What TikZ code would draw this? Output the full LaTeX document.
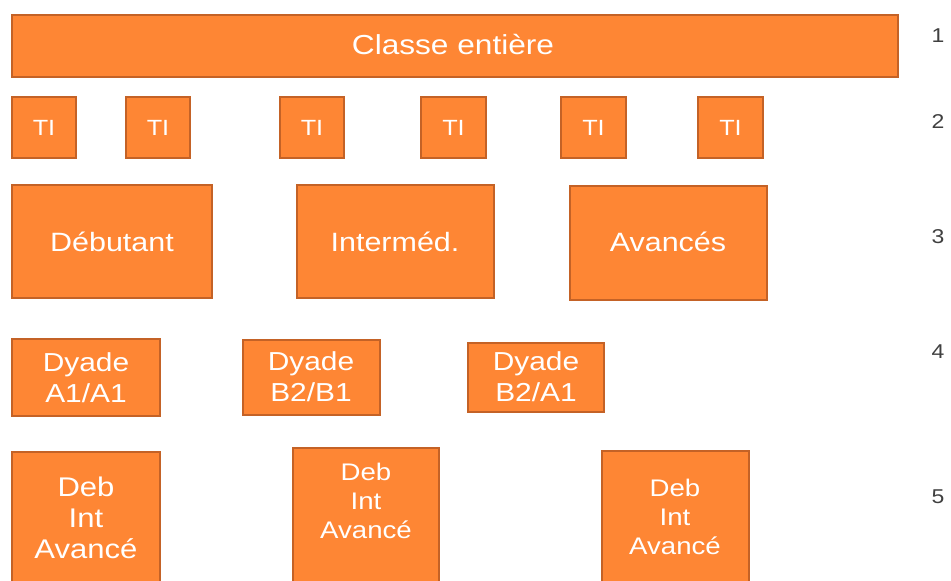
\documentclass[tikz,border=0pt]{standalone}
\usepackage{fontspec}
\setmainfont[FakeStretch=1.15]{Liberation Sans}
\definecolor{boxfill}{RGB}{254,134,52}
\definecolor{boxline}{RGB}{196,98,38}
\definecolor{numgray}{RGB}{64,64,64}
\tikzset{
  obox/.style={draw=boxline, fill=boxfill, line width=1.5pt, inner sep=0pt, outer sep=0pt},
  otext/.style={text=white, align=center, inner sep=0pt},
  rownum/.style={text=numgray, font=\fontsize{20}{22}\selectfont, inner sep=0pt},
}
\newcommand{\obx}[5]{% name, x1, y1, x2, y2
  \node[obox, minimum width={(#4-#2)*1pt}, minimum height={(#5-#3)*1pt}] (#1) at ({(#2+#4)/2},{(#3+#5)/2}) {};}
\begin{document}
\begin{tikzpicture}[x=1pt,y=-1pt]
\useasboundingbox (0,0) rectangle (951,581);
\clip (0,0) rectangle (951,581);
% row 1
\obx{classe}{12}{15}{898}{77}
\node[otext, font=\fontsize{27.5}{30}\selectfont] (tclasse) at (453,45) {Classe entière};
% row 2
\obx{ti1}{12}{97}{76}{158}
\obx{ti2}{126}{97}{190}{158}
\obx{ti3}{280}{97}{344}{158}
\obx{ti4}{421}{97}{486}{158}
\obx{ti5}{561}{97}{626}{158}
\obx{ti6}{698}{97}{763}{158}
\foreach \n in {1,...,6}{
  \node[otext, font=\fontsize{22}{24}\selectfont] (tti\n) at (ti\n) {TI};
}
% row 3
\obx{deb}{12}{185}{212}{298}
\obx{inter}{297}{185}{494}{298}
\obx{avan}{570}{186}{767}{300}
\node[otext, font=\fontsize{26.5}{30}\selectfont] (tdeb) at (112,242) {Débutant};
\node[otext, font=\fontsize{26.5}{30}\selectfont] (tinter) at (395,242) {Interméd.};
\node[otext, font=\fontsize{26.5}{30}\selectfont] (tavan) at (668,242) {Avancés};
% row 4
\obx{dya}{12}{339}{160}{416}
\obx{dyb}{243}{340}{380}{415}
\obx{dyc}{468}{343}{604}{412}
\node[otext, font=\fontsize{26}{31}\selectfont] (tdya) at (86,378) {Dyade\\A1/A1};
\node[otext, font=\fontsize{26}{31}\selectfont] (tdyb) at (311,377) {Dyade\\B2/B1};
\node[otext, font=\fontsize{26}{31}\selectfont] (tdyc) at (536,377) {Dyade\\B2/A1};
% row 5
\obx{mixa}{12}{452}{160}{600}
\obx{mixb}{293}{448}{439}{600}
\obx{mixc}{602}{451}{749}{600}
\node[otext, font=\fontsize{27}{31}\selectfont] (tmixa) at (86,518) {Deb\\Int\\Avancé};
\node[otext, font=\fontsize{24}{29}\selectfont] (tmixb) at (366,501) {Deb\\Int\\Avancé};
\node[otext, font=\fontsize{24}{29}\selectfont] (tmixc) at (675,517) {Deb\\Int\\Avancé};
% row numbers
\node[rownum] (n1) at (938,36) {1};
\node[rownum] (n2) at (938,122) {2};
\node[rownum] (n3) at (938,237) {3};
\node[rownum] (n4) at (938,352) {4};
\node[rownum] (n5) at (938,497) {5};
\end{tikzpicture}
\end{document}
